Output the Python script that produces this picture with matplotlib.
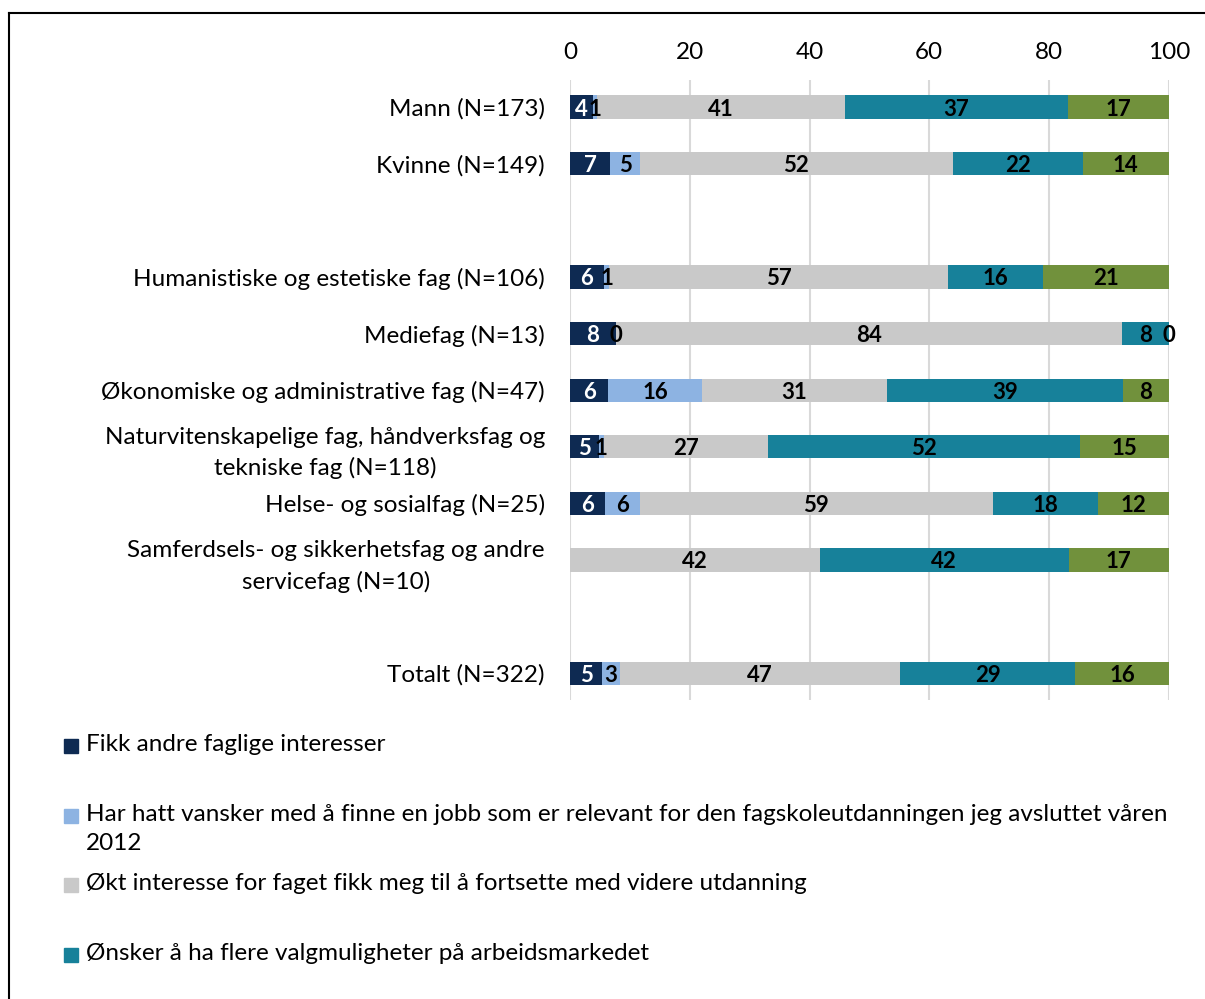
import numpy as np
import matplotlib.pyplot as plt
from matplotlib.patches import Rectangle
from matplotlib.lines import Line2D

plt.rcParams['font.family'] = ['Lato', 'DejaVu Sans']

categories = ["Mann (N=173)", "Kvinne (N=149)", "",
              "Humanistiske og estetiske fag (N=106)", "Mediefag (N=13)",
              "Økonomiske og administrative fag (N=47)",
              "Naturvitenskapelige fag, håndverksfag og\ntekniske fag (N=118)",
              "Helse- og sosialfag (N=25)",
              "Samferdsels- og sikkerhetsfag og andre\nservicefag (N=10)", "",
              "Totalt (N=322)"]

# nan = blank row / no value shown
andre_faglige = [3.8, 6.7, np.nan, 5.7, 7.7, 6.4, 4.8, 5.8, np.nan, np.nan, 5.4]
vansker_jobb = [0.7, 5.0, np.nan, 0.9, 0.0, 15.6, 0.9, 5.9, np.nan, np.nan, 2.9]
okt_interesse = [41.4, 52.2, np.nan, 56.6, 84.4, 30.9, 27.4, 58.9, 41.7, np.nan, 46.8]
valgmuligheter = [37.3, 21.7, np.nan, 15.8, 7.9, 39.4, 52.0, 17.5, 41.6, np.nan, 29.3]
annet = [16.8, 14.4, np.nan, 21.0, 0.0, 7.7, 14.9, 11.9, 16.7, np.nan, 15.6]

series = [andre_faglige, vansker_jobb, okt_interesse, valgmuligheter, annet]
legend_names = ["Fikk andre faglige interesser",
                "Har hatt vansker med å finne en jobb som er relevant for den fagskoleutdanningen jeg avsluttet våren\n2012",
                "Økt interesse for faget fikk meg til å fortsette med videre utdanning",
                "Ønsker å ha flere valgmuligheter på arbeidsmarkedet"]
colors = ["#0E2A52", "#8DB3E2", "#C9C9C9", "#17819A", "#71913C"]
label_colors = ["white", "black", "black", "black", "black"]

fig = plt.figure(figsize=(12.05, 9.99), dpi=100)
ax = fig.add_axes([0.473, 0.299, 0.497, 0.621])

y = np.arange(len(categories))
left = np.zeros(len(categories))
for vals, col, lc in zip(series, colors, label_colors):
    v = np.array(vals, dtype=float)
    w = np.nan_to_num(v)
    bars = ax.barh(y, w, left=left, height=0.41, color=col, zorder=3)
    labels = ["" if np.isnan(x) else f"{x:.0f}" for x in v]
    txts = ax.bar_label(bars, labels=labels, label_type='center', color=lc,
                        fontsize=16, fontweight='bold')
    for t in txts:
        t.set_zorder(6)
        t.set_va('center_baseline')
    left = left + w

ax.set_xlim(0, 100)
ax.set_ylim(10.48, -0.48)
ax.set_xticks(range(0, 101, 20))
ax.xaxis.tick_top()
ax.tick_params(axis='x', length=0, pad=12, labelsize=17.5)
ax.set_yticks(y)
ax.set_yticklabels(categories)
ax.tick_params(axis='y', length=0, pad=18, labelsize=17.5)
for lbl in ax.get_yticklabels():
    lbl.set_multialignment('center')
    lbl.set_linespacing(1.5)
ax.grid(axis='x', color='#D9D9D9', linewidth=1.5, zorder=0)
for s in ax.spines.values():
    s.set_visible(False)

# legend drawn down the left, as in the original (last entry falls off the page)
leg_y = [746, 816, 885, 955]
for name, col, yy in zip(legend_names, colors, leg_y):
    fy = 1 - yy / 999
    fig.patches.append(Rectangle((64 / 1205, fy - 7 / 999), 14 / 1205, 14 / 999,
                                 transform=fig.transFigure, color=col))
    fig.text(86 / 1205, fy + 12 / 999, name, fontsize=17.5, va='top', ha='left',
             linespacing=1.5)

# chart frame (left and top edge visible)
fig.add_artist(Line2D([9 / 1205, 9 / 1205], [0, 1 - 13 / 999], transform=fig.transFigure,
                      color='black', linewidth=1.5))
fig.add_artist(Line2D([9 / 1205, 1], [1 - 13 / 999, 1 - 13 / 999], transform=fig.transFigure,
                      color='black', linewidth=1.5))

fig.savefig("out.png", dpi=100)
